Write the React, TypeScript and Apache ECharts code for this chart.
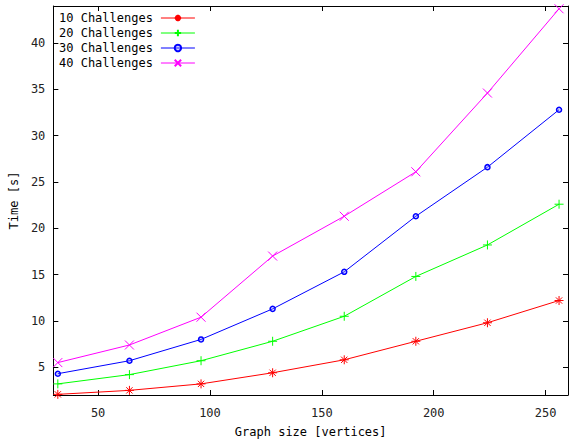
import React, { useEffect, useRef } from "react";
import * as echarts from "echarts";

const graphSizes = [32, 64, 96, 128, 160, 192, 224, 256];
const challenges10 = [2.07, 2.5, 3.2, 4.4, 5.8, 7.8, 9.8, 12.2];
const challenges20 = [3.2, 4.2, 5.7, 7.8, 10.5, 14.8, 18.2, 22.6];
const challenges30 = [4.3, 5.7, 8.0, 11.3, 15.3, 21.3, 26.6, 32.8];
const challenges40 = [5.5, 7.4, 10.4, 17.0, 21.3, 26.1, 34.6, 43.7];
const seriesNames = ["10 Challenges", "20 Challenges", "30 Challenges", "40 Challenges"];
const xTicks = [50, 100, 150, 200, 250];
const yTicks = [5, 10, 15, 20, 25, 30, 35, 40];

const FONT = "DejaVu Sans Mono";
const colors = ["#ff0000", "#00ff00", "#0000ff", "#ff00ff"];
const symbols = [
  "path://M0,5H10M5,0V10M1.5,1.5L8.5,8.5M8.5,1.5L1.5,8.5",
  "path://M0,5H10M5,0V10",
  "circle",
  "path://M0,0L10,10M10,0L0,10",
];
const sizes = [9, 9, 5, 9];

export default function App() {
  const ref = useRef<HTMLDivElement>(null);
  useEffect(() => {
    if (!ref.current) return;
    const chart = echarts.init(ref.current, null, { renderer: "svg" });
    const allData = [challenges10, challenges20, challenges30, challenges40];
    const axisCommon = {
      axisLine: { show: true, lineStyle: { color: "#000", width: 1 } },
      splitLine: { show: false },
    };
    chart.setOption({
      animation: false,
      backgroundColor: "#fff",
      grid: { left: 51, right: 1, top: 6, bottom: 48, containLabel: false },
      legend: {
        orient: "vertical",
        left: 54,
        top: 7,
        align: "right",
        itemWidth: 34,
        itemHeight: 8,
        itemGap: 3,
        lineStyle: { width: 1 },
        textStyle: { fontFamily: FONT, fontSize: 12, color: "#000", padding: [0, 3, 0, 0] },
        data: seriesNames,
      },
      xAxis: [
        {
          type: "value",
          min: 30,
          max: 260,
          name: "Graph size [vertices]",
          nameLocation: "middle",
          nameGap: 31,
          nameTextStyle: { fontFamily: FONT, fontSize: 12, color: "#000" },
          ...axisCommon,
          axisTick: { show: true, inside: true, length: 5, customValues: xTicks, lineStyle: { color: "#000" } },
          axisLabel: { customValues: xTicks, margin: 12, fontFamily: FONT, fontSize: 12, color: "#222" },
        },
        {
          type: "value",
          position: "top",
          min: 30,
          max: 260,
          ...axisCommon,
          axisTick: { show: true, inside: true, length: 5, customValues: xTicks, lineStyle: { color: "#000" } },
          axisLabel: { show: false },
        },
      ],
      yAxis: [
        {
          type: "value",
          min: 2,
          max: 44,
          name: "Time [s]",
          nameLocation: "middle",
          nameGap: 31,
          nameRotate: 90,
          nameTextStyle: { fontFamily: FONT, fontSize: 12, color: "#000" },
          ...axisCommon,
          axisTick: { show: true, inside: true, length: 5, customValues: yTicks, lineStyle: { color: "#000" } },
          axisLabel: { customValues: yTicks, margin: 8, fontFamily: FONT, fontSize: 12, color: "#222" },
        },
        {
          type: "value",
          position: "right",
          min: 2,
          max: 44,
          ...axisCommon,
          axisTick: { show: true, inside: true, length: 5, customValues: yTicks, lineStyle: { color: "#000" } },
          axisLabel: { show: false },
        },
      ],
      series: seriesNames.map((name, i) => ({
        name,
        type: "line",
        xAxisIndex: 0,
        yAxisIndex: 0,
        data: graphSizes.map((x, j) => [x, allData[i][j]]),
        symbol: symbols[i],
        symbolSize: sizes[i],
        showAllSymbol: true,
        lineStyle: { color: colors[i], width: 1 },
        itemStyle: {
          color: symbols[i] === "circle" ? "rgba(120,120,255,0.35)" : colors[i],
          borderColor: colors[i],
          borderWidth: symbols[i] === "circle" ? 1.5 : 1,
        },
        emphasis: { disabled: true },
      })),
    });
    return () => chart.dispose();
  }, []);
  return (
    <div
      ref={ref}
      style={{ position: "fixed", left: 0, top: 0, width: 569, height: 443 }}
    />
  );
}
